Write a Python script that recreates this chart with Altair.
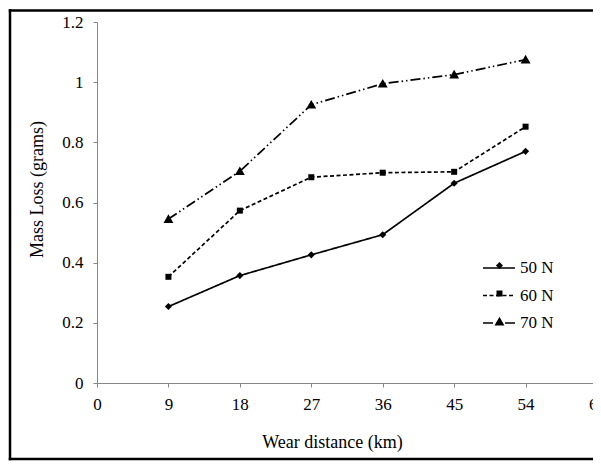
import altair as alt
import pandas as pd

distance = [9, 18, 27, 36, 45, 54]
loss_50 = [0.254, 0.357, 0.426, 0.493, 0.664, 0.770]
loss_60 = [0.353, 0.573, 0.684, 0.699, 0.702, 0.852]
loss_70 = [0.545, 0.704, 0.925, 0.995, 1.025, 1.075]
series = ["50 N", "60 N", "70 N"]

x_ticks = [i * 4.5 for i in range(15)]
y_ticks = [round(i * 0.1, 1) for i in range(13)]

rows = []
for name, vals in zip(series, [loss_50, loss_60, loss_70]):
    for d, v in zip(distance, vals):
        rows.append({"distance": d, "loss": v, "load": name})
df = pd.DataFrame(rows)

FONT = "'Liberation Serif', 'Times New Roman', 'DejaVu Serif', serif"
GRAY = "#868686"

x_enc = alt.X(
    "distance:Q",
    scale=alt.Scale(domain=[0, 63], nice=False, zero=True, range=[0, 500]),
    axis=alt.Axis(
        values=x_ticks,
        labelExpr="datum.value % 9 == 0 ? datum.label : ''",
        format="d",
        title="Wear distance (km)",
        titleX=235,
        titleY=64,
        titleAlign="center",
        titleBaseline="alphabetic",
        titleAnchor="start",
        grid=False,
        tickSize=4,
        labelPadding=9,
        labelFlush=False,
        labelOverlap=False,
    ),
)
y_enc = alt.Y(
    "loss:Q",
    scale=alt.Scale(domain=[0, 1.2], nice=False),
    axis=alt.Axis(
        values=y_ticks,
        labelExpr="round(datum.value * 10) % 2 == 0 ? datum.label : ''",
        format="~g",
        title="Mass Loss (grams)",
        titleX=-60,
        titleY=167,
        titleAlign="center",
        titleBaseline="middle",
        titleAnchor="start",
        grid=False,
        tickSize=4,
        labelPadding=10,
        labelOverlap=False,
    ),
)

dash_scale = alt.Scale(domain=series, range=[[1, 0], [4, 2.5], [10, 3, 1.5, 3, 1.5, 3]])
shape_scale = alt.Scale(
    domain=series,
    range=[
        "diamond",
        "M-0.85,-0.85H0.85V0.85H-0.85Z",
        "M0,-1.35L1.4,1.1L-1.4,1.1Z",
    ],
)

lines = alt.Chart(df).mark_line(color="black", strokeWidth=1.7).encode(
    x=x_enc,
    y=y_enc,
    strokeDash=alt.StrokeDash(
        "load:N",
        scale=dash_scale,
        legend=alt.Legend(
            title=None,
            orient="none",
            legendX=385,
            legendY=229,
            symbolType="stroke",
            symbolSize=1024,
            symbolStrokeWidth=1.7,
            symbolStrokeColor="black",
            labelFont=FONT,
            labelFontSize=17,
            labelColor="black",
            padding=0,
            rowPadding=2.5,
        ),
    ),
    detail="load:N",
)

points = alt.Chart(df).mark_point(filled=True, color="black", opacity=1).encode(
    x="distance:Q",
    y="loss:Q",
    shape=alt.Shape(
        "load:N",
        scale=shape_scale,
        legend=alt.Legend(
            title=None,
            orient="none",
            legendX=394,
            legendY=235,
            symbolFillColor="black",
            symbolStrokeColor="black",
            symbolOpacity=1,
            symbolSize=50,
            labelExpr="''",
            padding=0,
            rowPadding=10,
            labelFontSize=17,
        ),
    ),
    size=alt.SizeValue(50),
)

one = pd.DataFrame({"k": [0]})
frame_left = alt.Chart(one).mark_rule(color="black", strokeWidth=2.5).encode(
    x=alt.value(-87), y=alt.value(-12.75), y2=alt.value(438.25)
)
frame_top = alt.Chart(one).mark_rule(color="black", strokeWidth=2.5).encode(
    x=alt.value(-88.25), x2=alt.value(600), y=alt.value(-11.5)
)
frame_bottom = alt.Chart(one).mark_rule(color="black", strokeWidth=2.5).encode(
    x=alt.value(-88.25), x2=alt.value(600), y=alt.value(437)
)

chart = alt.layer(frame_left, frame_top, frame_bottom, lines, points).resolve_legend(
    strokeDash="independent", shape="independent"
).properties(
    width=496,
    height=361,
    padding={"left": 89, "top": 14, "right": 0, "bottom": 78},
    autosize=alt.AutoSizeParams(type="none"),
    background="white",
).configure(font=FONT).configure_view(stroke=None).configure_axis(
    domainColor=GRAY,
    tickColor=GRAY,
    labelFont=FONT,
    titleFont=FONT,
    labelFontSize=17,
    titleFontSize=18,
    titleFontWeight="normal",
    labelColor="black",
    titleColor="black",
).configure_legend(labelFont=FONT)

chart.save("out.html", embed_options={"renderer": "svg", "actions": False})
